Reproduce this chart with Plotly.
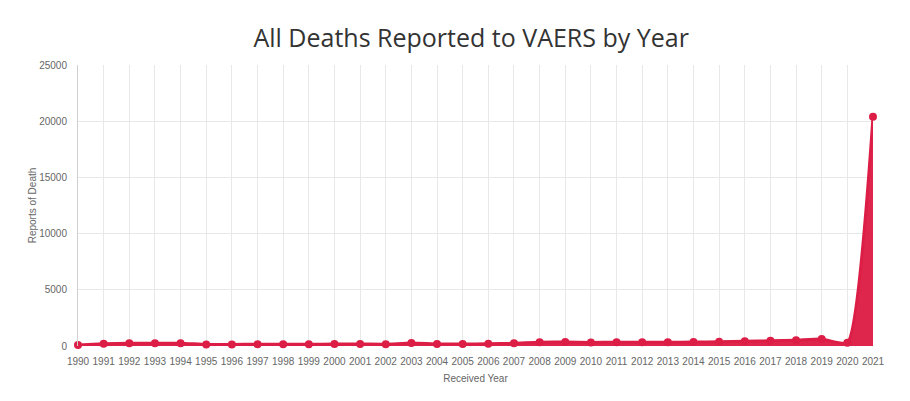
import plotly.graph_objects as go

# deaths reported to VAERS by received year
years = list(range(1990, 2022))
deaths = [90, 190, 250, 250, 250, 130, 130, 160, 150, 150,
          170, 180, 160, 260, 180, 180, 200, 240, 340, 350,
          320, 330, 330, 340, 350, 380, 430, 460, 520, 620,
          300, 20400]

red = 'rgb(220, 30, 70)'
axfont = dict(family='Liberation Sans, Arial', size=10, color='#666')

fig = go.Figure()
fig.add_trace(go.Scatter(
    x=years, y=deaths,
    mode='lines+markers',
    line=dict(color=red, width=3, shape='spline', smoothing=0.5),
    marker=dict(color=red, size=8),
    fill='tozeroy',
    fillcolor='rgba(220, 25, 65, 0.95)',
    cliponaxis=False,
))

fig.update_xaxes(
    range=[1990, 2021], dtick=1, tick0=1990,
    showgrid=True, gridcolor='#e8e8e8', gridwidth=1,
    showline=False, zeroline=False,
    ticks='outside', ticklen=6, tickcolor='rgba(0,0,0,0)',
    tickfont=axfont, automargin=False,
    title=dict(text='Received Year', font=axfont, standoff=8),
)
fig.update_yaxes(
    range=[0, 25000], dtick=5000, tickformat='d',
    showgrid=True, gridcolor='#e8e8e8', gridwidth=1,
    showline=True, linecolor='#d0d0d0', linewidth=1,
    zeroline=False,
    ticks='outside', ticklen=8, tickcolor='rgba(0,0,0,0)',
    tickfont=axfont, automargin=False,
    title=dict(text='Reports of Death', font=axfont, standoff=0),
)

fig.update_layout(
    width=910, height=401,
    margin=dict(l=70, r=45, t=57, b=63),
    paper_bgcolor='white', plot_bgcolor='white',
    showlegend=False,
    title=dict(text='All Deaths Reported to VAERS by Year', x=0.509, xanchor='center',
               y=0.925, yanchor='middle',
               font=dict(family='Open Sans', size=25, color='#333')),
)

fig.write_html("out.html")
